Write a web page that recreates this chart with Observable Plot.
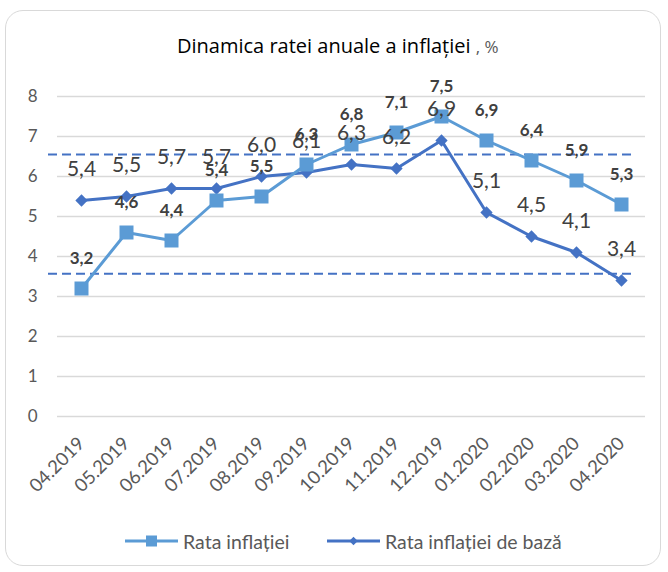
<!DOCTYPE html>
<html><head><meta charset="utf-8">
<script src="https://cdn.jsdelivr.net/npm/d3@7"></script>
<script src="https://cdn.jsdelivr.net/npm/@observablehq/plot@0.6"></script>
<style>
body{margin:0;width:668px;height:572px;position:relative;font-family:Lato,"Open Sans",sans-serif;background:#fff;overflow:hidden}
#frame{position:absolute;left:5px;top:10px;width:656px;height:556px;border:1px solid #d9d9d9;border-radius:18px;box-sizing:border-box}
#title{position:absolute;left:177px;top:32px;font-family:"Open Sans",sans-serif;font-size:20px;color:#000;white-space:nowrap}
#title .u{color:#595959;font-size:17px}
#chart{position:absolute;left:0;top:70px}
#legend{position:absolute;left:125px;top:529px;height:24px;font-size:19.5px;color:#595959;white-space:nowrap}
#legend .item{position:absolute;top:0;display:flex;align-items:center;height:24px}
#legend svg{margin-right:5px}
</style></head>
<body>
<div id="frame"></div>
<div id="title">Dinamica ratei anuale a inflației <span class="u">, %</span></div>
<div id="chart"></div>
<div id="legend"></div>
<script>
const months = ["04.2019","05.2019","06.2019","07.2019","08.2019","09.2019","10.2019","11.2019","12.2019","01.2020","02.2020","03.2020","04.2020"];
const inflatie = [3.2,4.6,4.4,5.4,5.5,6.3,6.8,7.1,7.5,6.9,6.4,5.9,5.3];
const baza = [5.4,5.5,5.7,5.7,6.0,6.1,6.3,6.2,6.9,5.1,4.5,4.1,3.4];
const corridor = [6.55,3.57];
const yTicks = [0,1,2,3,4,5,6,7,8];
const seriesNames = ["Rata inflației","Rata inflației de bază"];

const colLight = "#5B9BD5", colDark = "#4472C4";
const rowsL = months.map((m,i)=>({m, v:inflatie[i]}));
const rowsD = months.map((m,i)=>({m, v:baza[i]}));
const fmt = v => v.toFixed(1).replace(".", ",");

const chart = Plot.plot({
  width: 668, height: 426,
  marginLeft: 57, marginRight: 23, marginTop: 26, marginBottom: 80,
  style: {fontFamily: "Lato, sans-serif", fontSize: "16px", color: "#595959", background: "transparent"},
  x: {type: "point", domain: months, padding: 0.5, label: null},
  y: {domain: [0, 8], label: null},
  marks: [
    Plot.gridY(yTicks, {stroke: "#d9d9d9", strokeOpacity: 1, strokeWidth: 1.3}),
    Plot.axisY(yTicks, {tickSize: 0, tickPadding: 20, fontSize: 17, fill: "#595959", label: null}),
    Plot.axisX({tickRotate: -45, tickSize: 0, tickPadding: 24, dx: 0, fontSize: 18.5, fill: "#595959", label: null}),
    Plot.ruleY(corridor, {stroke: colDark, strokeWidth: 2, strokeDasharray: "9,5", dx: -9}),
    Plot.line(rowsD, {x: "m", y: "v", stroke: colDark, strokeWidth: 3}),
    Plot.dot(rowsD, {x: "m", y: "v", symbol: "square", rotate: 45, r: 4.9, fill: colDark, stroke: "none"}),
    Plot.line(rowsL, {x: "m", y: "v", stroke: colLight, strokeWidth: 3}),
    Plot.dot(rowsL, {x: "m", y: "v", symbol: "square", r: 7.9, fill: colLight, stroke: "none"}),
    Plot.text(rowsD, {x: "m", y: "v", text: d => fmt(d.v), dy: -31, fontSize: 21, fill: "#404040"}),
    Plot.text(rowsL, {x: "m", y: "v", text: d => fmt(d.v), dy: -30, fontSize: 17, fontWeight: "bold", fill: "#404040"})
  ]
});
document.getElementById("chart").append(chart);

const lg = document.getElementById("legend");
const samples = [
  `<svg width="53" height="14"><line x1="0" y1="7" x2="53" y2="7" stroke="${colLight}" stroke-width="3"/><rect x="21" y="1.5" width="11" height="11" fill="${colLight}"/></svg>`,
  `<svg width="53" height="14"><line x1="0" y1="7" x2="53" y2="7" stroke="${colDark}" stroke-width="3"/><rect x="23.5" y="4" width="6" height="6" fill="${colDark}" transform="rotate(45 26.5 7)"/></svg>`
];
const legendLeft = [0, 202];
seriesNames.forEach((n,i)=>{
  const d = document.createElement("div");
  d.className = "item";
  d.style.left = legendLeft[i] + "px";
  d.innerHTML = samples[i] + `<span>${n}</span>`;
  lg.append(d);
});
</script>
</body></html>
